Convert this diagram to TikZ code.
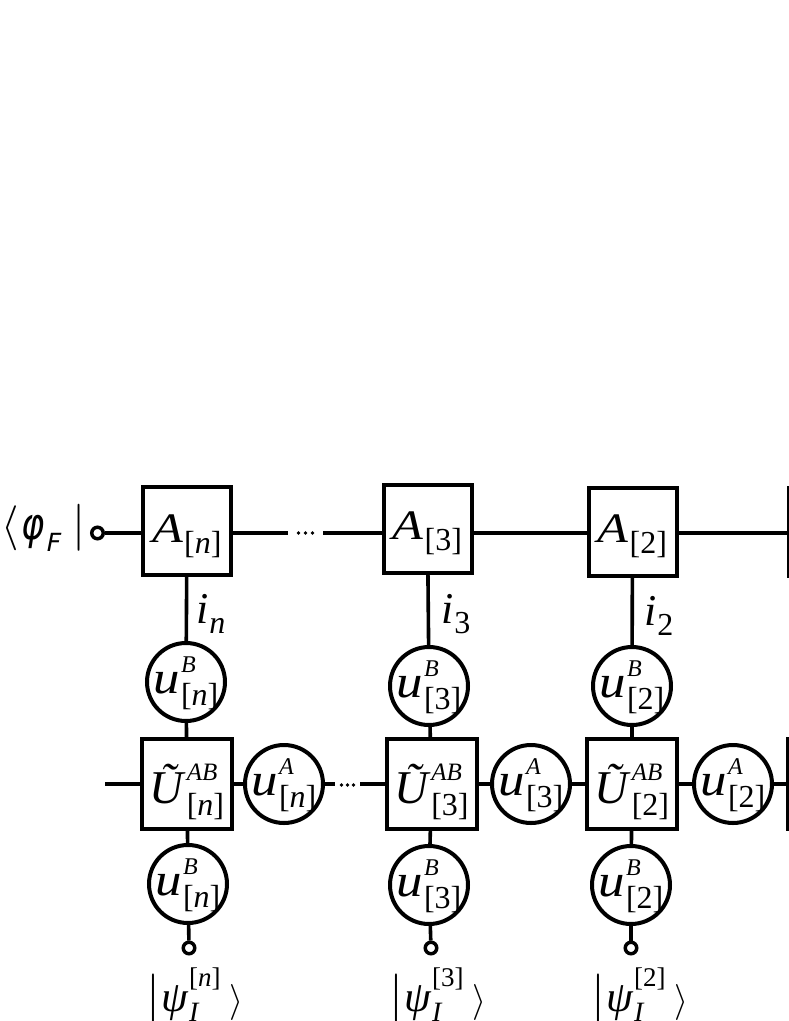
\documentclass[tikz,border=0pt]{standalone}
\usepackage{fix-cm}
\usepackage{graphicx}
\usepackage{fontspec}
\setmainfont{Liberation Serif}
\newfontfamily\dvs{DejaVu Sans}
\newcommand\fs[1]{\fontsize{#1pt}{#1pt}\selectfont}
\newcommand\bl[2]{\raisebox{#1}[0pt][0pt]{#2}}
\newcommand\Asub[1]{\bl{-11pt}{\scalebox{1.2}[1]{\fs{42}\itshape A}\kern1pt\raisebox{-11pt}{\fs{32}[#1]}}}
\newcommand\uB[2]{\bl{-11pt}{\scalebox{1.15}[1]{\fs{46}\itshape u}\kern1pt\rlap{\raisebox{21pt}{\fs{24}\itshape #1}}\raisebox{-12pt}{\fs{32}[#2]}}}
\newcommand\UAB[1]{\bl{-19.5pt}{{\fs{47}\itshape Ũ}\kern3pt\rlap{\raisebox{23pt}{\fs{25}\itshape AB}}\raisebox{-12pt}{\fs{32}[#1]}}}
\newcommand\ilab[1]{{\fs{44}\itshape i}\kern1pt\raisebox{-10pt}{\fs{32}#1}}
\newcommand\psil[1]{{\fs{50}$|$}\kern1pt{\fs{43}\itshape ψ}\kern1pt\rlap{\raisebox{-10pt}{\fs{28}\itshape I}}\raisebox{25pt}{\fs{27}[#1]}\kern9pt{\fs{36}$\rangle$}}
\tikzset{
  box/.style={draw, line width=4pt, minimum size=88pt, inner sep=0pt},
  ubox/.style={draw, line width=4pt, minimum size=90pt, inner sep=0pt},
  circ/.style={draw, circle, line width=4pt, minimum size=78pt, inner sep=0pt},
  term/.style={draw, circle, line width=3.5pt, minimum size=11.5pt, inner sep=0pt},
  dotsT/.style={minimum width=35pt, minimum height=1pt, inner sep=0pt},
  dotsM/.style={minimum width=25pt, minimum height=1pt, inner sep=0pt},
  lbl/.style={inner sep=0pt},
  wire/.style={line width=3.6pt},
}
\begin{document}
\begin{tikzpicture}[x=1pt,y=-1pt]
\fill[white] (0,0) rectangle (789,1021);
\useasboundingbox (0,0) rectangle (789,1021);
\clip (0,0) rectangle (789,1021);
% top row
\node[lbl, anchor=base west] (phi) at (1,539) {{\fs{45}$\langle$}\kern3pt\scalebox{0.8}[1]{\dvs\itshape\fs{44}φ}\kern2pt\raisebox{-12pt}{\dvs\itshape\fs{25}F}\kern11pt{\fs{47}$|$}};
\node[term] (tL) at (97.5,533) {};
\node[box] (An) at (187,531) {\Asub{\textit{n}}};
\node[dotsT] (dT) at (305.5,533) {};
\node[box] (A3) at (427.5,528.5) {\Asub{3}};
\node[box] (A2) at (632.5,531.5) {\Asub{2}};
\node[box] (R1) at (833,531.5) {};
\foreach \d in {-7,0,7} \fill ([xshift=\d pt]dT.center) circle[radius=1.9pt];
\draw[wire] (tL) -- (An.west|-tL);
\draw[wire] (An.east|-dT) -- (dT.west);
\draw[wire] (dT.east) -- (A3.west|-dT);
\draw[wire] (A3.east|-dT) -- (A2.west|-dT);
\draw[wire] (A2.east|-dT) -- (R1.west|-dT);
% index labels
\node[lbl, anchor=base west] (in) at (196,623) {\ilab{\textit{n}}};
\node[lbl, anchor=base west] (i3) at (441,623) {\ilab{3}};
\node[lbl, anchor=base west] (i2) at (644,625) {\ilab{2}};
% upper u^B
\node[circ] (uBn) at (186,682) {\uB{B}{\textit{n}}};
\node[circ] (uB3) at (429,686) {\uB{B}{3}};
\node[circ] (uB2) at (632,686) {\uB{B}{2}};
% middle row
\coordinate (lM) at (105,784);
\node[ubox] (Un) at (187,784) {\UAB{\textit{n}}};
\node[circ] (uAn) at (284,784) {\uB{A}{\textit{n}}};
\node[dotsM] (dM) at (347.5,784) {};
\node[ubox] (U3) at (431.5,784) {\UAB{3}};
\node[circ] (uA3) at (531,784) {\uB{A}{3}};
\node[ubox] (U2) at (632,784) {\UAB{2}};
\node[circ] (uA2) at (733,784) {\uB{A}{2}};
\node[ubox] (R2) at (833,784) {};
\foreach \d in {-6,0,6} \fill ([xshift=\d pt, yshift=-1pt]dM.center) circle[radius=1.8pt];
\draw[wire] (lM) -- (Un);
\draw[wire] (Un) -- (uAn);
\draw[wire] (uAn) -- (dM.west);
\draw[wire] (dM.east) -- (U3);
\draw[wire] (U3) -- (uA3);
\draw[wire] (uA3) -- (U2);
\draw[wire] (U2) -- (uA2);
\draw[wire] (uA2) -- (R2);
% lower u^B
\node[circ] (bBn) at (188,884) {\uB{B}{\textit{n}}};
\node[circ] (bB3) at (429,885) {\uB{B}{3}};
\node[circ] (bB2) at (631,885) {\uB{B}{2}};
\node[term] (sn) at (189,948) {};
\node[term] (s3) at (431,948) {};
\node[term] (s2) at (631,948) {};
% vertical wires
\draw[wire] (An) -- (uBn);
\draw[wire] (uBn) -- (Un);
\draw[wire] (Un) -- (bBn);
\draw[wire] (bBn) -- (sn);
\draw[wire] (A3) -- (uB3);
\draw[wire] (uB3) -- (U3);
\draw[wire] (U3) -- (bB3);
\draw[wire] (bB3) -- (s3);
\draw[wire] (A2) -- (uB2);
\draw[wire] (uB2) -- (U2);
\draw[wire] (U2) -- (bB2);
\draw[wire] (bB2) -- (s2);
% kets
\node[lbl, anchor=base] (pn) at (195,1011) {\psil{\textit{n}}};
\node[lbl, anchor=base] (p3) at (438,1011) {\psil{3}};
\node[lbl, anchor=base] (p2) at (640,1011) {\psil{2}};
\end{tikzpicture}
\end{document}
